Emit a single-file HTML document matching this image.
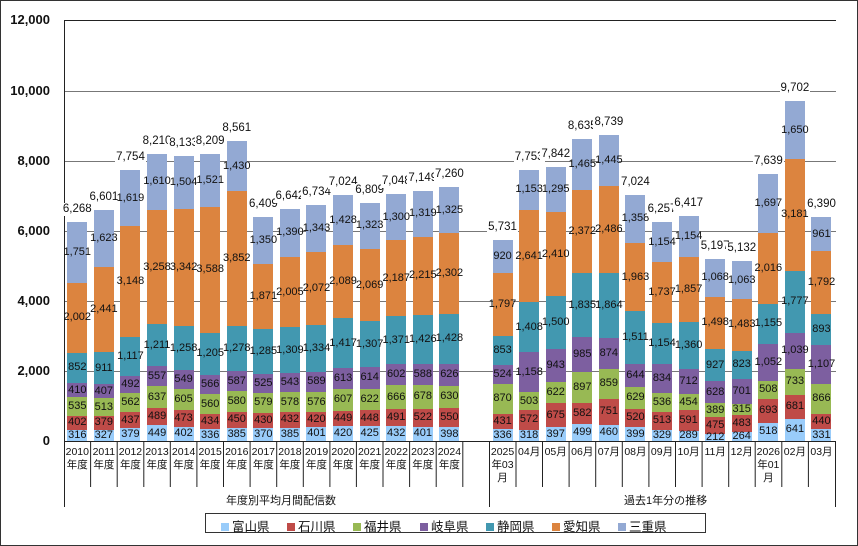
<!DOCTYPE html>
<html><head><meta charset="utf-8"><style>
*{margin:0;padding:0;box-sizing:border-box}
body{width:858px;height:546px;background:#fff;position:relative;overflow:hidden;font-family:"Liberation Sans","Noto Sans CJK JP",sans-serif;color:#111}
.frame{position:absolute;left:0;top:0;width:858px;height:546px;border:1px solid #333}
.yl{position:absolute;left:0;width:50px;text-align:right;font-weight:bold;font-size:13px}
svg{position:absolute;left:0;top:0}
.plot{position:absolute;left:64px;top:20px;width:771px;height:421px;display:grid;grid-template-columns:repeat(29,26.586px);align-items:end}
.c{display:flex;flex-direction:column;align-items:center;justify-content:flex-end;height:100%;min-width:0;width:26.586px}
.t{font-size:11.5px;background:#fff;padding:0 1px;margin-bottom:6px;white-space:nowrap;line-height:13px}
.bar{width:20px;display:flex;flex-direction:column-reverse}
.bar i{font-style:normal;display:flex;align-items:center;justify-content:center;height:calc(var(--v)*0.035px);font-size:11px;color:#111;white-space:nowrap;overflow:visible;line-height:11px}
.a{background:#99ccfa}.b{background:#bf4b48}.c1{background:#98b954}.d{background:#7d5fa0}.e{background:#4298b0}.f{background:#dc843f}.g{background:#93a9d3}
.xl{position:absolute;left:64px;top:446px;width:771px;display:grid;grid-template-columns:repeat(29,26.586px);font-size:10.5px;line-height:13px;text-align:center}
.xl div{min-width:0;white-space:nowrap;display:flex;flex-direction:column;align-items:center}
.gl{position:absolute;top:492px;font-size:11px}
.leg{position:absolute;left:205px;top:513px;width:501px;height:20px;border:1px solid #333;font-size:12.5px}
.leg span{position:absolute;top:2px;white-space:nowrap}
.leg b{display:inline-block;width:8px;height:8px;margin-right:3px;vertical-align:0}
</style></head><body>
<div class="frame"></div>
<div class="yl" style="top:12px">12,000</div>
<div class="yl" style="top:83px">10,000</div>
<div class="yl" style="top:153px">8,000</div>
<div class="yl" style="top:223px">6,000</div>
<div class="yl" style="top:293px">4,000</div>
<div class="yl" style="top:363px">2,000</div>
<div class="yl" style="top:433px">0</div>
<svg width="858" height="546">
<g stroke="#777" stroke-width="1">
<line x1="64" x2="836" y1="91.5" y2="91.5"/><line x1="64" x2="836" y1="161.5" y2="161.5"/><line x1="64" x2="836" y1="231.5" y2="231.5"/><line x1="64" x2="836" y1="301.5" y2="301.5"/><line x1="64" x2="836" y1="371.5" y2="371.5"/>
</g>
<g stroke="#222" stroke-width="1">
<line x1="64" x2="836" y1="20.5" y2="20.5"/>
<line x1="64" x2="836" y1="441.5" y2="441.5"/>
<line x1="64.5" x2="64.5" y1="20" y2="507"/>
<line x1="489.5" x2="489.5" y1="441" y2="507"/>
<line x1="835.5" x2="835.5" y1="441" y2="507"/>
<path d="M90.6 441V487M117.2 441V487M143.8 441V487M170.3 441V487M196.9 441V487M223.5 441V487M250.1 441V487M276.7 441V487M303.3 441V487M329.9 441V487M356.4 441V487M383 441V487M409.6 441V487M436.2 441V487M462.8 441V487M516 441V487M542.5 441V487M569.1 441V487M595.7 441V487M622.3 441V487M648.9 441V487M675.5 441V487M702.1 441V487M728.7 441V487M755.2 441V487M781.8 441V487M808.4 441V487"/>
</g>
</svg>
<div class="plot">
<div class="c"><div class="t">6,268</div><div class="bar"><i class="a" style="--v:316">316</i><i class="b" style="--v:402">402</i><i class="c1" style="--v:535">535</i><i class="d" style="--v:410">410</i><i class="e" style="--v:852">852</i><i class="f" style="--v:2002">2,002</i><i class="g" style="--v:1751">1,751</i></div></div>
<div class="c"><div class="t">6,601</div><div class="bar"><i class="a" style="--v:327">327</i><i class="b" style="--v:379">379</i><i class="c1" style="--v:513">513</i><i class="d" style="--v:407">407</i><i class="e" style="--v:911">911</i><i class="f" style="--v:2441">2,441</i><i class="g" style="--v:1623">1,623</i></div></div>
<div class="c"><div class="t">7,754</div><div class="bar"><i class="a" style="--v:379">379</i><i class="b" style="--v:437">437</i><i class="c1" style="--v:562">562</i><i class="d" style="--v:492">492</i><i class="e" style="--v:1117">1,117</i><i class="f" style="--v:3148">3,148</i><i class="g" style="--v:1619">1,619</i></div></div>
<div class="c"><div class="t">8,210</div><div class="bar"><i class="a" style="--v:449">449</i><i class="b" style="--v:489">489</i><i class="c1" style="--v:637">637</i><i class="d" style="--v:557">557</i><i class="e" style="--v:1211">1,211</i><i class="f" style="--v:3258">3,258</i><i class="g" style="--v:1610">1,610</i></div></div>
<div class="c"><div class="t">8,133</div><div class="bar"><i class="a" style="--v:402">402</i><i class="b" style="--v:473">473</i><i class="c1" style="--v:605">605</i><i class="d" style="--v:549">549</i><i class="e" style="--v:1258">1,258</i><i class="f" style="--v:3342">3,342</i><i class="g" style="--v:1504">1,504</i></div></div>
<div class="c"><div class="t">8,209</div><div class="bar"><i class="a" style="--v:336">336</i><i class="b" style="--v:434">434</i><i class="c1" style="--v:560">560</i><i class="d" style="--v:566">566</i><i class="e" style="--v:1205">1,205</i><i class="f" style="--v:3588">3,588</i><i class="g" style="--v:1521">1,521</i></div></div>
<div class="c"><div class="t">8,561</div><div class="bar"><i class="a" style="--v:385">385</i><i class="b" style="--v:450">450</i><i class="c1" style="--v:580">580</i><i class="d" style="--v:587">587</i><i class="e" style="--v:1278">1,278</i><i class="f" style="--v:3852">3,852</i><i class="g" style="--v:1430">1,430</i></div></div>
<div class="c"><div class="t">6,409</div><div class="bar"><i class="a" style="--v:370">370</i><i class="b" style="--v:430">430</i><i class="c1" style="--v:579">579</i><i class="d" style="--v:525">525</i><i class="e" style="--v:1285">1,285</i><i class="f" style="--v:1871">1,871</i><i class="g" style="--v:1350">1,350</i></div></div>
<div class="c"><div class="t">6,642</div><div class="bar"><i class="a" style="--v:385">385</i><i class="b" style="--v:432">432</i><i class="c1" style="--v:578">578</i><i class="d" style="--v:543">543</i><i class="e" style="--v:1309">1,309</i><i class="f" style="--v:2005">2,005</i><i class="g" style="--v:1390">1,390</i></div></div>
<div class="c"><div class="t">6,734</div><div class="bar"><i class="a" style="--v:401">401</i><i class="b" style="--v:420">420</i><i class="c1" style="--v:576">576</i><i class="d" style="--v:589">589</i><i class="e" style="--v:1334">1,334</i><i class="f" style="--v:2072">2,072</i><i class="g" style="--v:1343">1,343</i></div></div>
<div class="c"><div class="t">7,024</div><div class="bar"><i class="a" style="--v:420">420</i><i class="b" style="--v:449">449</i><i class="c1" style="--v:607">607</i><i class="d" style="--v:613">613</i><i class="e" style="--v:1417">1,417</i><i class="f" style="--v:2089">2,089</i><i class="g" style="--v:1428">1,428</i></div></div>
<div class="c"><div class="t">6,809</div><div class="bar"><i class="a" style="--v:425">425</i><i class="b" style="--v:448">448</i><i class="c1" style="--v:622">622</i><i class="d" style="--v:614">614</i><i class="e" style="--v:1307">1,307</i><i class="f" style="--v:2069">2,069</i><i class="g" style="--v:1323">1,323</i></div></div>
<div class="c"><div class="t">7,048</div><div class="bar"><i class="a" style="--v:432">432</i><i class="b" style="--v:491">491</i><i class="c1" style="--v:666">666</i><i class="d" style="--v:602">602</i><i class="e" style="--v:1371">1,371</i><i class="f" style="--v:2187">2,187</i><i class="g" style="--v:1300">1,300</i></div></div>
<div class="c"><div class="t">7,149</div><div class="bar"><i class="a" style="--v:401">401</i><i class="b" style="--v:522">522</i><i class="c1" style="--v:678">678</i><i class="d" style="--v:588">588</i><i class="e" style="--v:1426">1,426</i><i class="f" style="--v:2215">2,215</i><i class="g" style="--v:1319">1,319</i></div></div>
<div class="c"><div class="t">7,260</div><div class="bar"><i class="a" style="--v:398">398</i><i class="b" style="--v:550">550</i><i class="c1" style="--v:630">630</i><i class="d" style="--v:626">626</i><i class="e" style="--v:1428">1,428</i><i class="f" style="--v:2302">2,302</i><i class="g" style="--v:1325">1,325</i></div></div>
<div></div>
<div class="c"><div class="t">5,731</div><div class="bar"><i class="a" style="--v:336">336</i><i class="b" style="--v:431">431</i><i class="c1" style="--v:870">870</i><i class="d" style="--v:524">524</i><i class="e" style="--v:853">853</i><i class="f" style="--v:1797">1,797</i><i class="g" style="--v:920">920</i></div></div>
<div class="c"><div class="t">7,753</div><div class="bar"><i class="a" style="--v:318">318</i><i class="b" style="--v:572">572</i><i class="c1" style="--v:503">503</i><i class="d" style="--v:1158">1,158</i><i class="e" style="--v:1408">1,408</i><i class="f" style="--v:2641">2,641</i><i class="g" style="--v:1153">1,153</i></div></div>
<div class="c"><div class="t">7,842</div><div class="bar"><i class="a" style="--v:397">397</i><i class="b" style="--v:675">675</i><i class="c1" style="--v:622">622</i><i class="d" style="--v:943">943</i><i class="e" style="--v:1500">1,500</i><i class="f" style="--v:2410">2,410</i><i class="g" style="--v:1295">1,295</i></div></div>
<div class="c"><div class="t">8,635</div><div class="bar"><i class="a" style="--v:499">499</i><i class="b" style="--v:582">582</i><i class="c1" style="--v:897">897</i><i class="d" style="--v:985">985</i><i class="e" style="--v:1835">1,835</i><i class="f" style="--v:2372">2,372</i><i class="g" style="--v:1465">1,465</i></div></div>
<div class="c"><div class="t">8,739</div><div class="bar"><i class="a" style="--v:460">460</i><i class="b" style="--v:751">751</i><i class="c1" style="--v:859">859</i><i class="d" style="--v:874">874</i><i class="e" style="--v:1864">1,864</i><i class="f" style="--v:2486">2,486</i><i class="g" style="--v:1445">1,445</i></div></div>
<div class="c"><div class="t">7,024</div><div class="bar"><i class="a" style="--v:399">399</i><i class="b" style="--v:520">520</i><i class="c1" style="--v:629">629</i><i class="d" style="--v:644">644</i><i class="e" style="--v:1511">1,511</i><i class="f" style="--v:1963">1,963</i><i class="g" style="--v:1358">1,358</i></div></div>
<div class="c"><div class="t">6,257</div><div class="bar"><i class="a" style="--v:329">329</i><i class="b" style="--v:513">513</i><i class="c1" style="--v:536">536</i><i class="d" style="--v:834">834</i><i class="e" style="--v:1154">1,154</i><i class="f" style="--v:1737">1,737</i><i class="g" style="--v:1154">1,154</i></div></div>
<div class="c"><div class="t">6,417</div><div class="bar"><i class="a" style="--v:289">289</i><i class="b" style="--v:591">591</i><i class="c1" style="--v:454">454</i><i class="d" style="--v:712">712</i><i class="e" style="--v:1360">1,360</i><i class="f" style="--v:1857">1,857</i><i class="g" style="--v:1154">1,154</i></div></div>
<div class="c"><div class="t">5,197</div><div class="bar"><i class="a" style="--v:212">212</i><i class="b" style="--v:475">475</i><i class="c1" style="--v:389">389</i><i class="d" style="--v:628">628</i><i class="e" style="--v:927">927</i><i class="f" style="--v:1498">1,498</i><i class="g" style="--v:1068">1,068</i></div></div>
<div class="c"><div class="t">5,132</div><div class="bar"><i class="a" style="--v:264">264</i><i class="b" style="--v:483">483</i><i class="c1" style="--v:315">315</i><i class="d" style="--v:701">701</i><i class="e" style="--v:823">823</i><i class="f" style="--v:1483">1,483</i><i class="g" style="--v:1063">1,063</i></div></div>
<div class="c"><div class="t">7,639</div><div class="bar"><i class="a" style="--v:518">518</i><i class="b" style="--v:693">693</i><i class="c1" style="--v:508">508</i><i class="d" style="--v:1052">1,052</i><i class="e" style="--v:1155">1,155</i><i class="f" style="--v:2016">2,016</i><i class="g" style="--v:1697">1,697</i></div></div>
<div class="c"><div class="t">9,702</div><div class="bar"><i class="a" style="--v:641">641</i><i class="b" style="--v:681">681</i><i class="c1" style="--v:733">733</i><i class="d" style="--v:1039">1,039</i><i class="e" style="--v:1777">1,777</i><i class="f" style="--v:3181">3,181</i><i class="g" style="--v:1650">1,650</i></div></div>
<div class="c"><div class="t">6,390</div><div class="bar"><i class="a" style="--v:331">331</i><i class="b" style="--v:440">440</i><i class="c1" style="--v:866">866</i><i class="d" style="--v:1107">1,107</i><i class="e" style="--v:893">893</i><i class="f" style="--v:1792">1,792</i><i class="g" style="--v:961">961</i></div></div>
</div>
<div class="xl">
<div>2010<br>年度</div><div>2011<br>年度</div><div>2012<br>年度</div><div>2013<br>年度</div><div>2014<br>年度</div><div>2015<br>年度</div><div>2016<br>年度</div><div>2017<br>年度</div><div>2018<br>年度</div><div>2019<br>年度</div><div>2020<br>年度</div><div>2021<br>年度</div><div>2022<br>年度</div><div>2023<br>年度</div><div>2024<br>年度</div><div></div>
<div>2025<br>年03<br>月</div><div>04月</div><div>05月</div><div>06月</div><div>07月</div><div>08月</div><div>09月</div><div>10月</div><div>11月</div><div>12月</div><div>2026<br>年01<br>月</div><div>02月</div><div>03月</div>
</div>
<div class="gl" style="left:226px">年度別平均月間配信数</div>
<div class="gl" style="left:624px">過去1年分の推移</div>
<div class="leg">
<span style="left:15px"><b class="a"></b>富山県</span>
<span style="left:81px"><b class="b"></b>石川県</span>
<span style="left:147px"><b class="c1"></b>福井県</span>
<span style="left:214px"><b class="d"></b>岐阜県</span>
<span style="left:280px"><b class="e"></b>静岡県</span>
<span style="left:346px"><b class="f"></b>愛知県</span>
<span style="left:412px"><b class="g"></b>三重県</span>
</div>
</body></html>
